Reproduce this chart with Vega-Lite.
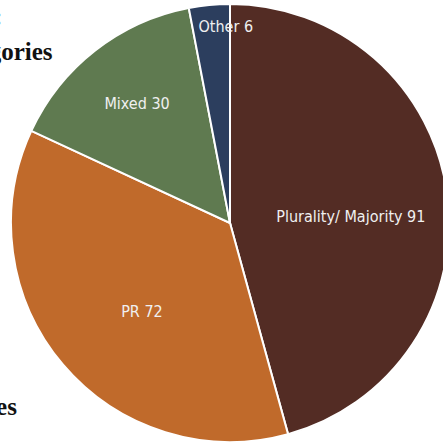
{
  "$schema": "https://vega.github.io/schema/vega-lite/v6.json",
  "autosize": "none",
  "padding": 0,
  "width": 460,
  "height": 446,
  "background": "white",
  "title": {
    "text": ["Electoral System Use:", "The Four Main Categories"],
    "subtitle": "Total for 199 Countries",
    "anchor": "start",
    "frame": "group",
    "orient": "top",
    "align": "left",
    "baseline": "top",
    "dx": -231,
    "dy": 420,
    "offset": 0,
    "font": "Liberation Serif",
    "fontSize": 25,
    "fontWeight": "bold",
    "color": "#111111",
    "lineHeight": 35,
    "subtitleFont": "Liberation Serif",
    "subtitleFontSize": 25,
    "subtitleFontWeight": "bold",
    "subtitleColor": "#111111",
    "subtitlePadding": 330
  },
  "data": {
    "values": [
      {"category": "Plurality/ Majority", "count": 91, "order": 1},
      {"category": "PR", "count": 72, "order": 2},
      {"category": "Mixed", "count": 30, "order": 3},
      {"category": "Other", "count": 6, "order": 4}
    ]
  },
  "transform": [
    {"stack": "count", "groupby": [], "sort": [{"field": "order", "order": "ascending"}], "as": ["t0", "t1"]},
    {"calculate": "(datum.t0 + datum.t1) / 2", "as": "tmid"},
    {"calculate": "datum.category + ' ' + datum.count", "as": "label"}
  ],
  "encoding": {
    "color": {
      "field": "category",
      "type": "nominal",
      "scale": {
        "domain": ["Plurality/ Majority", "PR", "Mixed", "Other"],
        "range": ["#532c24", "#c06a2b", "#5f7a50", "#2c3e5e"]
      },
      "legend": null
    }
  },
  "layer": [
    {
      "mark": {"type": "arc", "outerRadius": 219, "stroke": "white", "strokeWidth": 2},
      "encoding": {
        "theta": {"field": "t0", "type": "quantitative", "scale": {"domain": [0, 199], "zero": true}},
        "theta2": {"field": "t1"}
      }
    },
    {
      "transform": [{"filter": "datum.category == 'Plurality/ Majority'"}],
      "mark": {"type": "text", "radius": 121, "thetaOffset": 0.087, "font": "'DejaVu Sans Condensed', 'Liberation Sans Narrow', 'Roboto Condensed', Roboto, sans-serif", "fontSize": 16},
      "encoding": {"theta": {"field": "tmid", "type": "quantitative"}, "text": {"field": "label"}, "color": {"value": "#f0f0f0"}}
    },
    {
      "transform": [{"filter": "datum.category == 'PR'"}],
      "mark": {"type": "text", "radius": 125, "thetaOffset": -0.087, "font": "'DejaVu Sans Condensed', 'Liberation Sans Narrow', 'Roboto Condensed', Roboto, sans-serif", "fontSize": 16},
      "encoding": {"theta": {"field": "tmid", "type": "quantitative"}, "text": {"field": "label"}, "color": {"value": "#f0f0f0"}}
    },
    {
      "transform": [{"filter": "datum.category == 'Mixed'"}],
      "mark": {"type": "text", "radius": 151, "font": "'DejaVu Sans Condensed', 'Liberation Sans Narrow', 'Roboto Condensed', Roboto, sans-serif", "fontSize": 16},
      "encoding": {"theta": {"field": "tmid", "type": "quantitative"}, "text": {"field": "label"}, "color": {"value": "#f0f0f0"}}
    },
    {
      "transform": [{"filter": "datum.category == 'Other'"}],
      "mark": {"type": "text", "radius": 196, "thetaOffset": 0.073, "font": "'DejaVu Sans Condensed', 'Liberation Sans Narrow', 'Roboto Condensed', Roboto, sans-serif", "fontSize": 16},
      "encoding": {"theta": {"field": "tmid", "type": "quantitative"}, "text": {"field": "label"}, "color": {"value": "#f0f0f0"}}
    }
  ]
}
